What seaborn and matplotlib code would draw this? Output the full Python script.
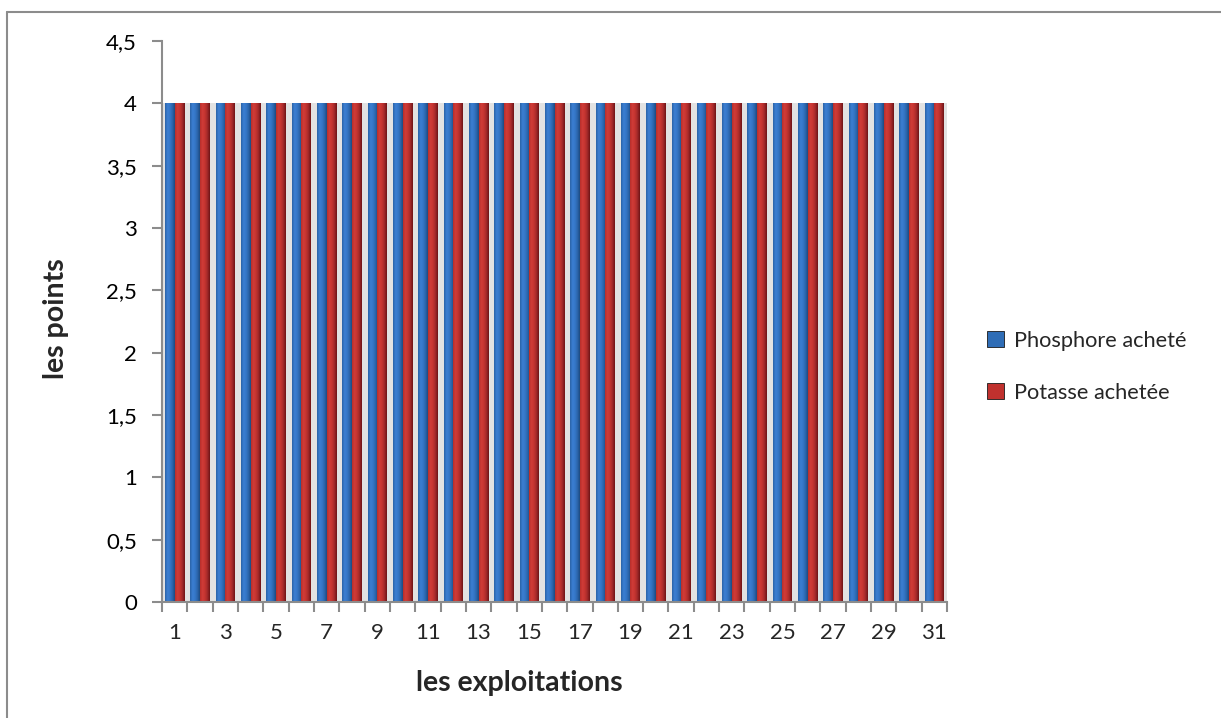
import numpy as np
import pandas as pd
import matplotlib
matplotlib.use("Agg")
import matplotlib.pyplot as plt
from matplotlib.colors import LinearSegmentedColormap
from matplotlib.patches import Patch
from matplotlib.lines import Line2D
import seaborn as sns

# Data
exploitations = list(range(1, 32))
phosphore = [4] * 31
potasse = [4] * 31
series_names = ["Phosphore acheté", "Potasse achetée"]
y_ticks = [0, 0.5, 1, 1.5, 2, 2.5, 3, 3.5, 4, 4.5]
y_ticklabels = ["0", "0,5", "1", "1,5", "2", "2,5", "3", "3,5", "4", "4,5"]

df = pd.DataFrame({
    "exploitation": exploitations * 2,
    "points": phosphore + potasse,
    "serie": [series_names[0]] * 31 + [series_names[1]] * 31,
})

sns.set_theme(style="white")
plt.rcParams["font.family"] = ["Lato", "DejaVu Sans"]

fig = plt.figure(figsize=(12.21, 7.18), dpi=100)
ax = fig.add_axes([0.1327, 0.1616, 0.6429, 0.7813])

# soft depth shading behind each group
shadow = pd.DataFrame({"exploitation": exploitations,
                       "points": [max(a, b) for a, b in zip(phosphore, potasse)]})
sns.barplot(data=shadow, x="exploitation", y="points", color="#e2e2e2",
            width=1.0, ax=ax, errorbar=None, saturation=1, zorder=1)
n_shadow = len(ax.patches)

palette = {series_names[0]: "#2f6db6", series_names[1]: "#c0312e"}
sns.barplot(data=df, x="exploitation", y="points", hue="serie", palette=palette,
            width=0.76, ax=ax, errorbar=None, saturation=1, legend=False, zorder=2)

for p in ax.patches[:n_shadow]:
    p.set_edgecolor("none")

cmaps = {
    "#2f6db6": LinearSegmentedColormap.from_list(
        "b", ["#2a62a6", "#3b7ed2", "#3677c8", "#2c66ac", "#1d4a80"]),
    "#c0312e": LinearSegmentedColormap.from_list(
        "r", ["#b82e2b", "#d03c38", "#c43430", "#a2292a", "#6e1416"]),
}
grad = np.linspace(0, 1, 64).reshape(1, -1)
for p in ax.patches[n_shadow:]:
    fc = matplotlib.colors.to_hex(p.get_facecolor())
    cm = cmaps.get(fc)
    if cm is None:
        continue
    x0, y0 = p.get_x(), p.get_y()
    w, h = p.get_width(), p.get_height()
    im = ax.imshow(grad, cmap=cm, aspect="auto", extent=[x0, x0 + w, y0, y0 + h],
                   zorder=3, interpolation="bilinear")
    im.set_clip_path(p)
    p.set_edgecolor("none")

ax.set_xlim(-0.5, len(exploitations) - 0.5)
ax.set_ylim(0, 4.5)
ax.set_yticks(y_ticks)
ax.set_yticklabels(y_ticklabels, fontsize=16, color="#000000")
ax.set_xticks(range(0, len(exploitations), 2))
ax.set_xticklabels([str(e) for e in exploitations[::2]], fontsize=16)
ax.set_xticks(np.arange(-0.5, len(exploitations), 1), minor=True)

spine_c = "#8c8c8c"
for s in ["top", "right"]:
    ax.spines[s].set_visible(False)
for s in ["left", "bottom"]:
    ax.spines[s].set_color(spine_c)
    ax.spines[s].set_linewidth(1.5)
    ax.spines[s].set_zorder(5)
ax.tick_params(axis="y", which="major", direction="out", length=7, width=1.5,
               color=spine_c, left=True, pad=11)
ax.tick_params(axis="x", which="major", length=0, pad=15)
ax.tick_params(axis="x", which="minor", direction="out", length=7, width=1.5,
               color=spine_c, bottom=True)

ax.set_xlabel("les exploitations", fontsize=20.5, fontweight="bold")
ax.xaxis.set_label_coords(0.455, -0.121)
ax.set_ylabel("les points", fontsize=20.5, fontweight="bold")
ax.yaxis.set_label_coords(-0.1185, 0.505)

handles = [Patch(facecolor=palette[n], edgecolor="#1a1a1a", linewidth=0.6)
           for n in series_names]
fig.legend(handles, series_names, loc="center left", bbox_to_anchor=(0.7926, 0.489),
           frameon=False, fontsize=15.7, handlelength=0.75, handleheight=0.75,
           handletextpad=0.45, labelspacing=1.45)

# chart frame
fig.add_artist(Line2D([0.0057, 0.0057], [0, 0.983], color="#8c8c8c", lw=1.5,
                      transform=fig.transFigure))
fig.add_artist(Line2D([0.0057, 1.0], [0.983, 0.983], color="#8c8c8c", lw=1.5,
                      transform=fig.transFigure))

fig.savefig("out.png", dpi=100, facecolor="white")
